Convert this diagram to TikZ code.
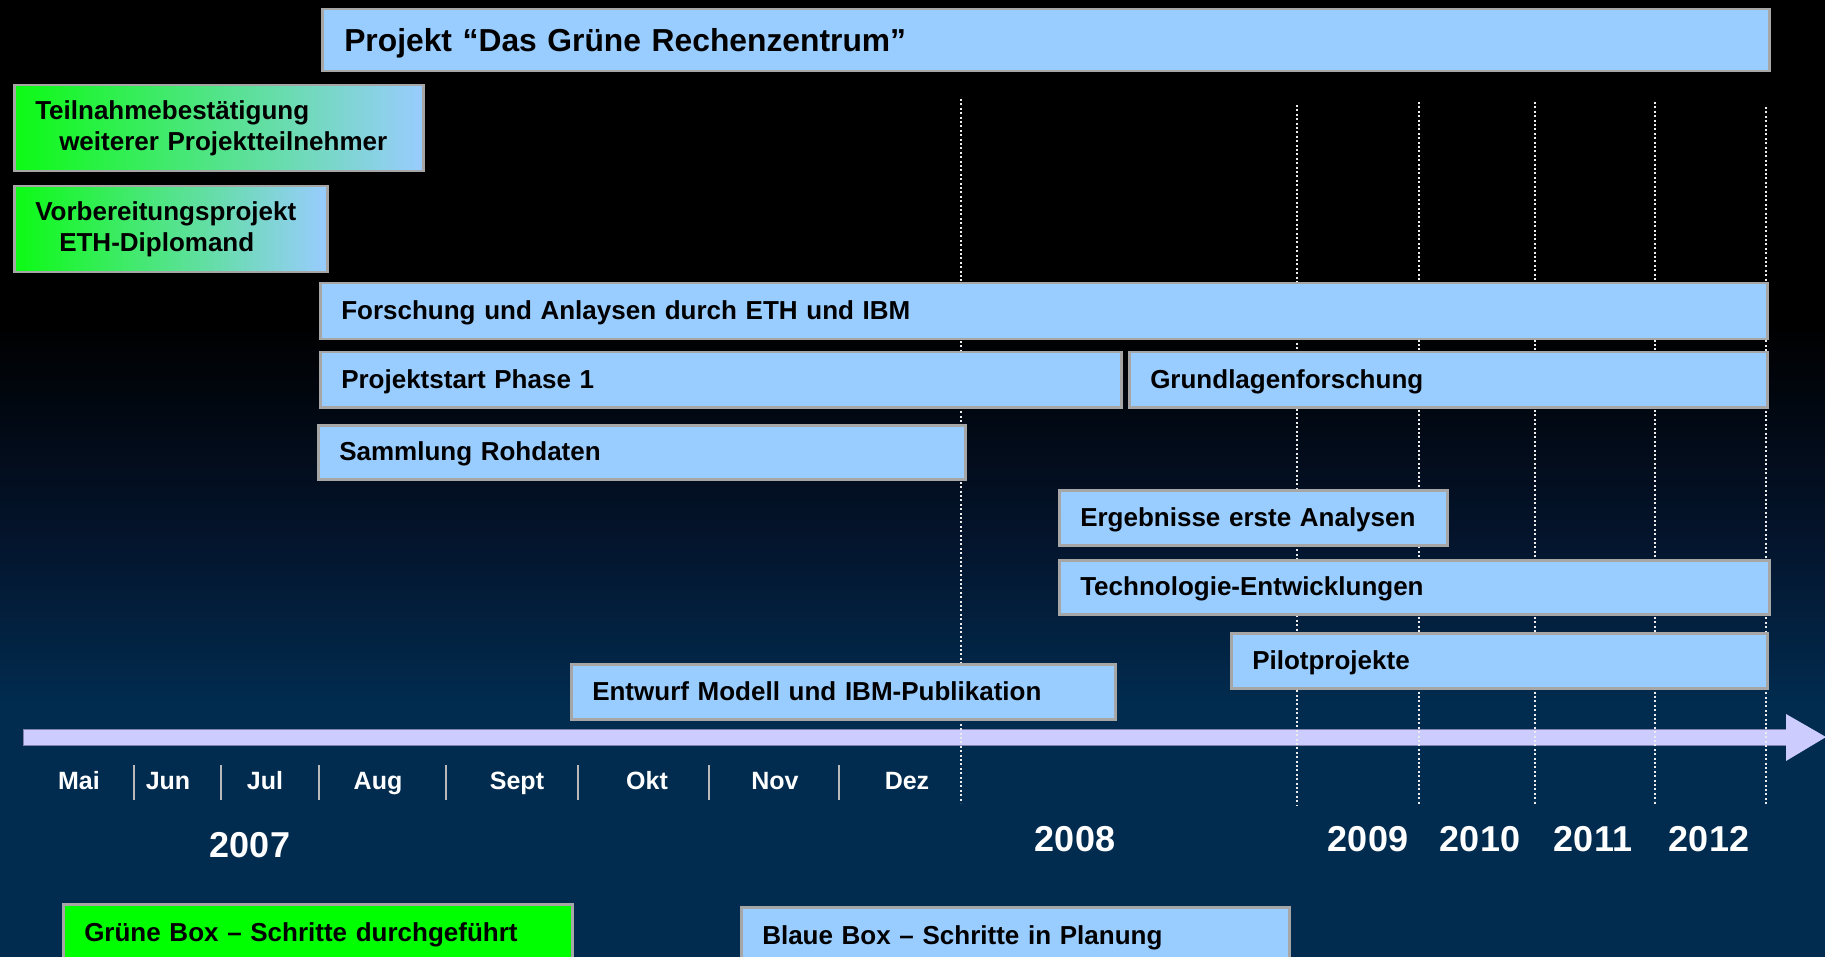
\documentclass[tikz,border=0pt]{standalone}
\usepackage{fontspec}
\setmainfont{Liberation Sans}
\definecolor{bgnavy}{RGB}{1,44,80}
\definecolor{bgmid}{RGB}{4,20,44}
\definecolor{plan}{RGB}{153,204,255}
\definecolor{done}{RGB}{0,255,0}
\definecolor{rim}{RGB}{166,166,166}
\definecolor{shaft}{RGB}{204,204,255}
\definecolor{shaftedge}{RGB}{130,130,175}
\pgfdeclareverticalshading{nightfade}{100bp}{color(0bp)=(bgnavy); color(38bp)=(bgnavy); color(47bp)=(bgmid); color(58bp)=(black); color(100bp)=(black)}
\tikzset{
  box/.style={draw=rim, line width=2.5pt, fill=plan, anchor=north west,
    inner xsep=21pt, inner ysep=0pt, align=left, text=black,
    font=\fontsize{26}{31}\selectfont\bfseries},
  oneline/.style={text height=20pt, text depth=3pt},
  donebox/.style={box, left color=done!92!plan, right color=plan},
  legendgreen/.style={box, fill=done},
  month/.style={anchor=base, text=white, font=\fontsize{25}{30}\selectfont\bfseries},
  year/.style={anchor=base, text=white, font=\fontsize{36}{40}\selectfont\bfseries},
  guide/.style={white!85!gray, line width=1.6pt, dash pattern=on 2pt off 2.4pt},
  tick/.style={rim!80!white, line width=2pt}
}
\begin{document}
\begin{tikzpicture}[x=1pt, y=-1pt]
\useasboundingbox (0,0) rectangle (1825,957);
% backdrop: black sky fading into navy
\shade[shading=nightfade] (0,0) rectangle (1825,957);

% time arrow
\fill[shaft] (23,729) rectangle (1786,745);
\draw[shaftedge, line width=0.8pt] (23,729) -- (1786,729) (23,745) -- (1786,745) (23,729) -- (23,745);
\fill[shaft] (1786,714) -- (1826,737) -- (1786,761) -- cycle;

% year guides
\draw[guide] (961,99) -- (961,803);
\draw[guide] (1297,105) -- (1297,805);
\draw[guide] (1419,102) -- (1419,805);
\draw[guide] (1535,102) -- (1535,805);
\draw[guide] (1655,102) -- (1655,805);
\draw[guide] (1766,107) -- (1766,805);

% month separators
\foreach \mx in {134,221,319,446,578,709,839}
  \draw[tick] (\mx,765) -- (\mx,800);

% month labels
\node[month] (mai) at (79,789) {Mai};
\node[month] (jun) at (168,789) {Jun};
\node[month] (jul) at (265,789) {Jul};
\node[month] (aug) at (378,789) {Aug};
\node[month] (sep) at (517,789) {Sept};
\node[month] (okt) at (647,789) {Okt};
\node[month] (nov) at (775,789) {Nov};
\node[month] (dez) at (907,789) {Dez};

% years
\node[year] (y07) at (250,857) {2007};
\node[year] (y08) at (1075,851) {2008};
\node[year] (y09) at (1368,851) {2009};
\node[year] (y10) at (1480,851) {2010};
\node[year] (y11) at (1593,851) {2011};
\node[year] (y12) at (1709,851) {2012};

% project phases
\node[box, text width=1403pt, minimum height=62pt, inner xsep=22pt,
      text height=25pt, text depth=2pt, font=\fontsize{31.8}{36}\selectfont\bfseries]
  (title) at (321,8) {Projekt “Das Grüne Rechenzentrum”};
\node[donebox, text width=367pt, minimum height=86pt]
  (teil) at (13,84) {Teilnahmebestätigung\\\hspace*{24pt}weiterer Projektteilnehmer};
\node[donebox, text width=271pt, minimum height=86pt]
  (vorb) at (13,185) {Vorbereitungsprojekt\\\hspace*{24pt}ETH-Diplomand};
\node[box, oneline, text width=1405pt, minimum height=56pt]
  (forsch) at (319,282) {Forschung und Anlaysen durch ETH und IBM};
\node[box, oneline, text width=759pt, minimum height=55pt]
  (phase) at (319,351) {Projektstart Phase 1};
\node[box, oneline, text width=596pt, minimum height=55pt]
  (grund) at (1128,351) {Grundlagenforschung};
\node[box, oneline, text width=605pt, minimum height=54pt]
  (samml) at (317,424) {Sammlung Rohdaten};
\node[box, oneline, text width=346pt, minimum height=55pt]
  (ergeb) at (1058,489) {Ergebnisse erste Analysen};
\node[box, oneline, text width=668pt, minimum height=54pt]
  (techno) at (1058,559) {Technologie-Entwicklungen};
\node[box, oneline, text width=494pt, minimum height=55pt]
  (pilot) at (1230,632) {Pilotprojekte};
\node[box, oneline, text width=502pt, minimum height=55pt]
  (entwurf) at (570,663) {Entwurf Modell und IBM-Publikation};

% legend
\node[legendgreen, oneline, text width=467pt, minimum height=57pt]
  (lgreen) at (62,903) {Grüne Box – Schritte durchgeführt};
\node[box, oneline, text width=506pt, minimum height=57pt]
  (lblue) at (740,906) {Blaue Box – Schritte in Planung};
\end{tikzpicture}
\end{document}
